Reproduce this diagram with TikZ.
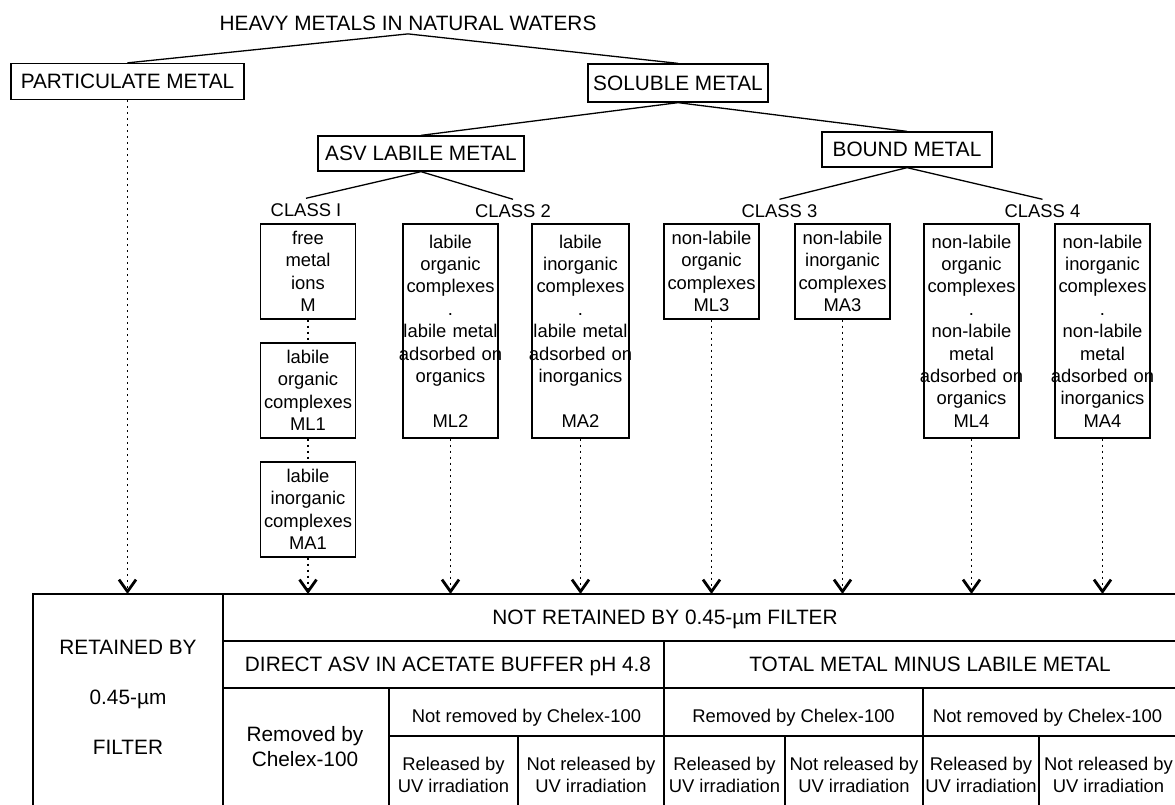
\documentclass[tikz,border=0pt]{standalone}
\usepackage{fontspec}
\setmainfont{Liberation Sans}
\usetikzlibrary{arrows.meta}
\newcommand{\bigfont}{\fontsize{20.8}{25}\selectfont}
\newcommand{\smallfont}{\fontsize{18.4}{22.4}\selectfont}
\newcommand{\wide}[1]{\makebox[0pt]{#1}}
\tikzset{
	head/.style={draw, line width=1.3pt, font=\bigfont, minimum height=36pt, inner sep=0pt},
	classbox/.style={draw, line width=1.3pt, font=\smallfont, align=center, text width=95pt, inner sep=0pt},
	classlabel/.style={font=\smallfont, inner sep=5pt},
	link/.style={line width=1.3pt},
	dots/.style={line width=1.5pt, dash pattern=on 2pt off 4pt},
	drop/.style={dots, -{Straight Barb[length=12pt, width=17pt, line width=2.8pt]}},
	rule/.style={line width=1.4pt},
	cell/.style={font=\bigfont, align=center},
	subcell/.style={font=\smallfont, align=center}
}
\begin{document}
\begin{tikzpicture}[x=1pt, y=-1pt]
		\path[use as bounding box] (0, 0) rectangle (1175, 804);
		% tree
		\node[font=\bigfont] (title) at (408, 23) {HEAVY METALS IN NATURAL WATERS};
		\node[head, minimum width=233pt] (part) at (127.5, 81.5) {PARTICULATE METAL};
		\node[head, minimum width=180pt, minimum height=38pt] (sol) at (678, 83) {SOLUBLE METAL};
		\node[head, minimum width=206pt, minimum height=35pt] (asv) at (421, 153.5) {ASV LABILE METAL};
		\node[head, minimum width=170pt, minimum height=35pt] (bound) at (907, 149.5) {BOUND METAL};
		\node[classlabel] (c1) at (306, 210) {CLASS I};
		\node[classlabel] (c2) at (513, 211) {CLASS 2};
		\node[classlabel] (c3) at (779.5, 211) {CLASS 3};
		\node[classlabel] (c4) at (1042.5, 211) {CLASS 4};
		\draw[link] (part.north) -- (title.south) -- (sol.north);
		\draw[link] (asv.north) -- (sol.south) -- (bound.north);
		\draw[link] (c1.north) -- (asv.south) -- (c2.north);
		\draw[link] (c3.north) -- (bound.south) -- (c4.north);
		% species
		\node[classbox, minimum height=95pt] (m) at (308, 271.5) {free\\metal\\ions\\M};
		\node[classbox, minimum height=95pt] (ml1) at (308, 390.5) {labile\\organic\\complexes\\ML1};
		\node[classbox, minimum height=95pt] (ma1) at (308, 509.5) {labile\\inorganic\\complexes\\MA1};
		\node[classbox, minimum height=214pt] (ml2) at (450.5, 331) {labile\\organic\\complexes\\.\\labile metal\\\wide{adsorbed on}\\organics\\[22.4pt]ML2};
		\node[classbox, minimum height=214pt, text width=97pt] (ma2) at (580.5, 331) {labile\\inorganic\\complexes\\.\\labile metal\\\wide{adsorbed on}\\inorganics\\[22.4pt]MA2};
		\node[classbox, minimum height=95pt] (ml3) at (711.5, 271.5) {non-labile\\organic\\complexes\\ML3};
		\node[classbox, minimum height=95pt] (ma3) at (842.5, 271.5) {non-labile\\inorganic\\complexes\\MA3};
		\node[classbox, minimum height=214pt] (ml4) at (971.5, 331) {non-labile\\organic\\complexes\\.\\non-labile\\metal\\\wide{adsorbed on}\\organics\\ML4};
		\node[classbox, minimum height=214pt] (ma4) at (1102.5, 331) {non-labile\\inorganic\\complexes\\.\\non-labile\\metal\\\wide{adsorbed on}\\inorganics\\MA4};
		\draw[dots] (m.south) -- (ml1.north);
		\draw[dots] (ml1.south) -- (ma1.north);
		% arrows down to the table
		\coordinate (tabletop) at (0, 594);
		\draw[drop] (part.south) -- (part.south |- tabletop);
		\draw[drop] (ma1.south) -- (ma1.south |- tabletop);
		\draw[drop] (ml2.south) -- (ml2.south |- tabletop);
		\draw[drop] (ma2.south) -- (ma2.south |- tabletop);
		\draw[drop] (ml3.south) -- (ml3.south |- tabletop);
		\draw[drop] (ma3.south) -- (ma3.south |- tabletop);
		\draw[drop] (ml4.south) -- (ml4.south |- tabletop);
		\draw[drop] (ma4.south) -- (ma4.south |- tabletop);
		% table
		\draw[rule] (33, 812) -- (33, 594) -- (1190, 594);
		\draw[rule] (223, 594) -- (223, 812);
		\draw[rule] (223, 641) -- (1190, 641);
		\draw[rule] (223, 688) -- (1190, 688);
		\draw[rule] (389, 736) -- (1190, 736);
		\draw[rule] (664, 641) -- (664, 812);
		\draw[rule] (389, 688) -- (389, 812);
		\draw[rule] (923, 688) -- (923, 812);
		\draw[rule] (518, 736) -- (518, 812);
		\draw[rule] (785, 736) -- (785, 812);
		\draw[rule] (1039, 736) -- (1039, 812);
		\node[cell] (ret) at (128, 697) {RETAINED BY\\[25pt]0.45-µm\\[25pt]FILTER};
		\node[cell] (notret) at (665, 619) {NOT RETAINED BY 0.45-µm FILTER};
		\node[cell] (direct) at (448, 666) {DIRECT ASV IN ACETATE BUFFER pH 4.8};
		\node[cell] (total) at (930, 664) {TOTAL METAL MINUS LABILE METAL};
		\node[cell] (rem1) at (305, 747) {Removed by\\Chelex-100};
		\node[subcell] (nrem1) at (526.5, 718) {Not removed by Chelex-100};
		\node[subcell] (rem2) at (793.5, 718) {Removed by Chelex-100};
		\node[subcell] (nrem2) at (1047.5, 718) {Not removed by Chelex-100};
		\node[subcell] (uv1) at (453.5, 775) {Released by\\UV irradiation};
		\node[subcell] (uv2) at (591, 775) {Not released by\\UV irradiation};
		\node[subcell] (uv3) at (724.5, 775) {Released by\\UV irradiation};
		\node[subcell] (uv4) at (854, 775) {Not released by\\UV irradiation};
		\node[subcell] (uv5) at (981, 775) {Released by\\UV irradiation};
		\node[subcell] (uv6) at (1108.5, 775) {Not released by\\UV irradiation};
	\end{tikzpicture}
\end{document}
